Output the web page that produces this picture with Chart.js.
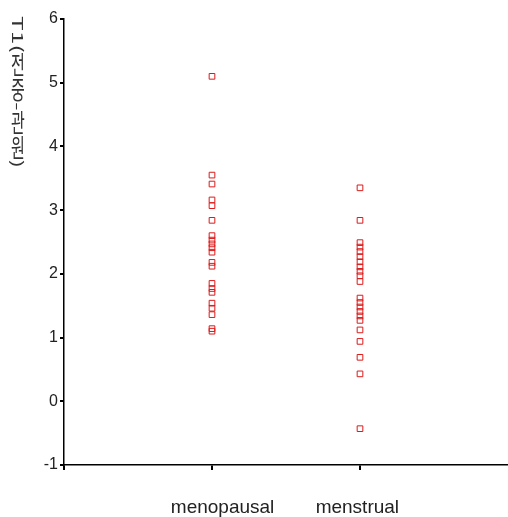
<!DOCTYPE html>
<html>
<head>
<meta charset="utf-8">
<script src="https://cdn.jsdelivr.net/npm/chart.js@4/dist/chart.umd.min.js"></script>
<style>
html,body{margin:0;padding:0;background:#fff;}
#wrap{width:508px;height:517px;position:relative;}
</style>
</head>
<body>
<div id="wrap"><canvas id="c" width="508" height="517"></canvas></div>
<script>
const categories = ['menopausal', 'menstrual'];
const xLabels = ['', 'menopausal', 'menstrual', ''];
const menopausal = [5.10, 3.55, 3.41, 3.16, 3.07, 2.84, 2.60, 2.53, 2.47, 2.41, 2.34, 2.18, 2.12, 1.85, 1.77, 1.71, 1.54, 1.46, 1.36, 1.14, 1.10];
const menstrual = [3.35, 2.84, 2.49, 2.42, 2.35, 2.27, 2.19, 2.11, 2.04, 1.97, 1.88, 1.62, 1.55, 1.48, 1.41, 1.34, 1.27, 1.12, 0.94, 0.69, 0.43, -0.43];
const yTicks = [-1, 0, 1, 2, 3, 4, 5, 6];
const yTitle = 'T1(전중-관원)';

const sansFont = '"Liberation Sans", Arial, sans-serif';

const points = [];
menopausal.forEach(v => points.push({x: categories[0], y: v}));
menstrual.forEach(v => points.push({x: categories[1], y: v}));

const verticalTitle = {
  id: 'verticalTitle',
  afterDraw(chart) {
    const ctx = chart.ctx;
    ctx.save();
    ctx.fillStyle = '#333';
    const fs = 15;
    ctx.font = fs + 'px "Noto Sans CJK KR", "Liberation Sans", sans-serif';
    const chars = Array.from(yTitle);
    const items = chars.map(ch => {
      const cjk = ch.charCodeAt(0) >= 0xAC00 && ch.charCodeAt(0) <= 0xD7A3;
      const w = ctx.measureText(ch).width;
      return {ch, cjk, adv: cjk ? fs : w};
    });
    const total = items.reduce((s, it) => s + it.adv, 0);
    const top = 16, span = 152;
    const k = span / total;
    const cx = 18;
    let y = top;
    items.forEach(it => {
      const a = it.adv * k;
      const cy = y + a / 2;
      ctx.save();
      ctx.translate(cx, cy);
      if (it.cjk) {
        ctx.scale(1, k);
      } else {
        ctx.rotate(Math.PI / 2);
        ctx.scale(k, 1);
      }
      ctx.textAlign = 'center';
      ctx.textBaseline = 'middle';
      ctx.fillText(it.ch, 0, 0);
      ctx.restore();
      y += a;
    });
    ctx.restore();
  }
};

new Chart(document.getElementById('c'), {
  type: 'scatter',
  data: {
    labels: xLabels,
    datasets: [{
      data: points,
      pointStyle: 'rect',
      pointRadius: 4,
      pointHoverRadius: 4,
      borderColor: '#dd1a1a',
      backgroundColor: 'rgba(255,255,255,0)',
      borderWidth: 1
    }]
  },
  options: {
    responsive: false,
    animation: false,
    devicePixelRatio: 1,
    layout: {autoPadding: false, padding: {top: 19, right: 0, left: 0, bottom: 0}},
    plugins: {legend: {display: false}, tooltip: {enabled: false}},
    scales: {
      x: {
        type: 'category',
        labels: xLabels,
        offset: false,
        min: 0, max: 3,
        grid: {
          display: true, drawOnChartArea: false, drawTicks: true, tickLength: 5, lineWidth: 2,
          color: c => (c.index === 3 ? 'rgba(0,0,0,0)' : '#000')
        },
        border: {display: true, color: '#000', width: 1.5},
        ticks: {
          color: '#222', font: {family: sansFont, size: 19}, padding: 26, maxRotation: 0, autoSkip: false,
          callback: (v, i) => (i === 1 ? '    ' + xLabels[i] : (i === 2 ? xLabels[i] + ' ' : xLabels[i]))
        },
        afterFit(s) { s.height = 52; s.paddingLeft = 0; s.paddingRight = 0; }
      },
      y: {
        min: -1, max: 6,
        afterBuildTicks(s) { s.ticks = yTicks.map(v => ({value: v})); },
        grid: {display: true, drawOnChartArea: false, drawTicks: true, tickLength: 4, color: '#000', lineWidth: 2},
        border: {display: true, color: '#000', width: 1.5},
        ticks: {color: '#222', font: {family: sansFont, size: 16}, padding: 2},
        afterFit(s) { s.width = 64; }
      }
    }
  },
  plugins: [verticalTitle]
});
</script>
</body>
</html>
